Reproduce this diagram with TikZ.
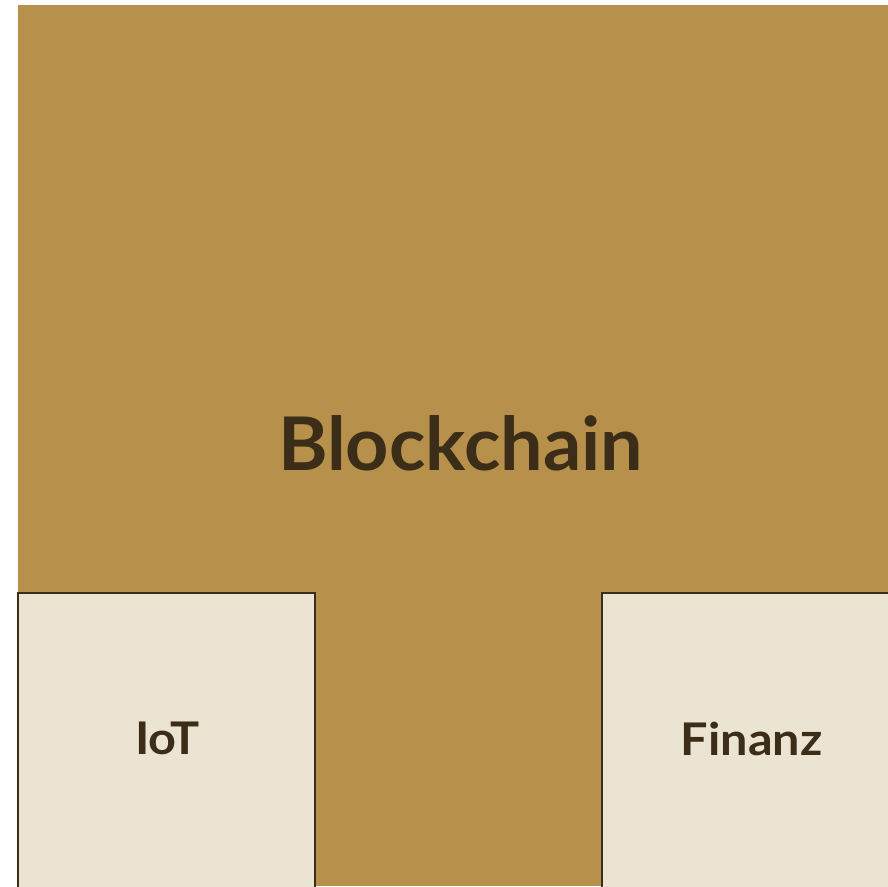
\documentclass[tikz,border=0pt]{standalone}
\usepackage{fontspec}
\newfontfamily\titlefont[FakeStretch=1.02]{Lato}
\newfontfamily\labelfont[FakeStretch=1.08]{Lato}
\definecolor{gold}{HTML}{B7914B}
\definecolor{paper}{HTML}{ECE4D3}
\definecolor{ink}{HTML}{3B2D18}
\tikzset{
	label text/.style={text=ink, inner sep=0pt, anchor=base},
	field/.style={fill=paper, draw=ink, line width=2.2pt}
}

\begin{document}
\begin{tikzpicture}[x=1pt, y=-1pt]
		\useasboundingbox (0,0) rectangle (888,886);
		\clip (0,0) rectangle (888,886);
		%Gold area
		\fill [gold] (18,5) rectangle (888,886);
		%Boxes
		\filldraw [field] (18,593) rectangle (315,900);
		\filldraw [field] (602,593) rectangle (900,900);
		%Labels
		\node [label text, font=\titlefont\bfseries\fontsize{74}{80}\selectfont] (chain) at (460.5,470) {Blockchain};
		\node [label text, font=\labelfont\bfseries\fontsize{45}{50}\selectfont] (iot) at (167.5,754) {IoT};
		\node [label text, font=\labelfont\bfseries\fontsize{45}{50}\selectfont] (finanz) at (751.7,755) {Finanz};
	\end{tikzpicture}
\end{document}
